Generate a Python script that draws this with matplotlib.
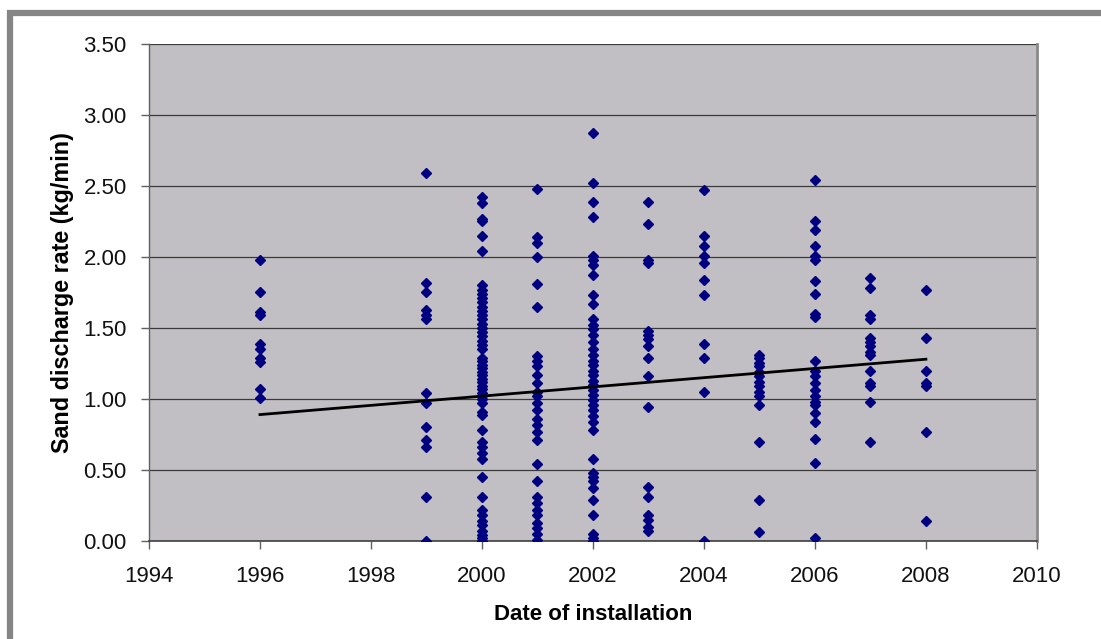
import numpy as np
import matplotlib
matplotlib.use('Agg')
import matplotlib.pyplot as plt
from matplotlib.patches import Rectangle

plt.rcParams['font.family'] = ['Liberation Sans', 'DejaVu Sans']

# Sand discharge rate (kg/min) per installation year
rate_1996 = [1.98, 1.75, 1.61, 1.59, 1.39, 1.35, 1.29, 1.26, 1.07, 1.01]
rate_1999 = [2.59, 1.82, 1.75, 1.63, 1.59, 1.56, 1.04, 0.97, 0.80, 0.71, 0.66, 0.31, 0.00]
rate_2000 = [2.42, 2.38, 2.27, 2.25, 2.15, 2.04, 1.80, 1.77, 1.74, 1.71, 1.68, 1.65,
             1.62, 1.59, 1.56, 1.53, 1.50, 1.47, 1.44, 1.41, 1.38, 1.35, 1.29, 1.27,
             1.24, 1.22, 1.19, 1.17, 1.14, 1.12, 1.09, 1.07, 1.04, 1.02, 1.00, 0.97,
             0.91, 0.89, 0.78, 0.70, 0.66, 0.62, 0.58, 0.45, 0.31, 0.22, 0.18, 0.14,
             0.11, 0.07, 0.04, 0.02, 0.00]
rate_2001 = [2.48, 2.14, 2.10, 2.00, 1.81, 1.65, 1.30, 1.27, 1.23, 1.17, 1.11, 1.05,
             1.02, 0.97, 0.92, 0.86, 0.82, 0.77, 0.71, 0.54, 0.42, 0.31, 0.27, 0.22,
             0.18, 0.13, 0.09, 0.05, 0.01]
rate_2002 = [2.87, 2.52, 2.39, 2.28, 2.01, 1.98, 1.94, 1.87, 1.73, 1.67, 1.56, 1.52,
             1.49, 1.45, 1.40, 1.35, 1.31, 1.27, 1.24, 1.20, 1.17, 1.13, 1.10, 1.06,
             1.03, 0.99, 0.96, 0.92, 0.88, 0.84, 0.78, 0.58, 0.48, 0.45, 0.42, 0.37,
             0.29, 0.18, 0.05, 0.02, 0.00]
rate_2003 = [2.39, 2.23, 1.98, 1.96, 1.48, 1.45, 1.42, 1.37, 1.29, 1.16, 0.94, 0.38,
             0.31, 0.18, 0.15, 0.10, 0.07]
rate_2004 = [2.47, 2.15, 2.08, 2.01, 1.96, 1.84, 1.73, 1.39, 1.29, 1.05, 0.00]
rate_2005 = [1.31, 1.29, 1.25, 1.23, 1.19, 1.16, 1.12, 1.09, 1.05, 1.02, 0.96, 0.70,
             0.29, 0.06]
rate_2006 = [2.54, 2.25, 2.19, 2.08, 2.01, 1.98, 1.83, 1.74, 1.60, 1.58, 1.27, 1.20,
             1.16, 1.11, 1.06, 1.02, 0.98, 0.96, 0.90, 0.84, 0.72, 0.55, 0.02]
rate_2007 = [1.85, 1.78, 1.59, 1.56, 1.43, 1.40, 1.37, 1.33, 1.31, 1.20, 1.11, 1.09,
             0.98, 0.70]
rate_2008 = [1.77, 1.43, 1.20, 1.11, 1.09, 0.77, 0.14]

# linear trend line as drawn on the chart
trend_years = [1996, 2008]
trend_values = [0.89, 1.28]

years = [1996, 1999, 2000, 2001, 2002, 2003, 2004, 2005, 2006, 2007, 2008]
rates = [rate_1996, rate_1999, rate_2000, rate_2001, rate_2002, rate_2003,
         rate_2004, rate_2005, rate_2006, rate_2007, rate_2008]

x = np.concatenate([[yr] * len(r) for yr, r in zip(years, rates)])
y = np.concatenate(rates)

fig = plt.figure(figsize=(11.01, 6.39), dpi=100)
fig.patch.set_facecolor('white')

# grey frame around the chart (left and top visible, rest cut off)
fig.patches.append(Rectangle((0.009, -0.1), 1.2, 1.0797, transform=fig.transFigure,
                             fill=False, edgecolor='#858585', linewidth=4.5))

ax = fig.add_axes([0.1353, 0.1534, 0.8065, 0.7778])
ax.set_facecolor('#C1BFC3')

ax.set_xlim(1994, 2010)
ax.set_ylim(0, 3.5)
ax.set_xticks(np.arange(1994, 2011, 2))
ax.set_yticks(np.arange(0, 3.51, 0.5))
ax.set_yticklabels(['%.2f' % v for v in np.arange(0, 3.51, 0.5)])

ax.grid(axis='y', color='#3a3a3a', linewidth=0.9)
ax.set_axisbelow(True)

ax.plot(x, y, linestyle='none', marker='D', markersize=5.4,
        markerfacecolor='#000080', markeredgecolor='#000080', zorder=3)
ax.plot(trend_years, trend_values, color='black', linewidth=2.0, zorder=4)

ax.spines['top'].set_visible(False)
ax.spines['right'].set_color('#8a8a8a')
ax.spines['right'].set_linewidth(2.0)
ax.spines['left'].set_color('#606060')
ax.spines['bottom'].set_color('#404040')
ax.spines['left'].set_linewidth(1.0)
ax.spines['bottom'].set_linewidth(1.2)

ax.tick_params(axis='both', direction='out', length=6, width=1, color='#606060',
               labelsize=16, labelcolor='#111111')
ax.tick_params(axis='y', pad=10)
ax.tick_params(axis='x', pad=12)

ax.set_xlabel('Date of installation', fontsize=16, fontweight='bold', labelpad=12)
ax.set_ylabel('Sand discharge rate (kg/min)', fontsize=16.8, fontweight='bold', labelpad=7)

fig.savefig('out.png', dpi=100)
